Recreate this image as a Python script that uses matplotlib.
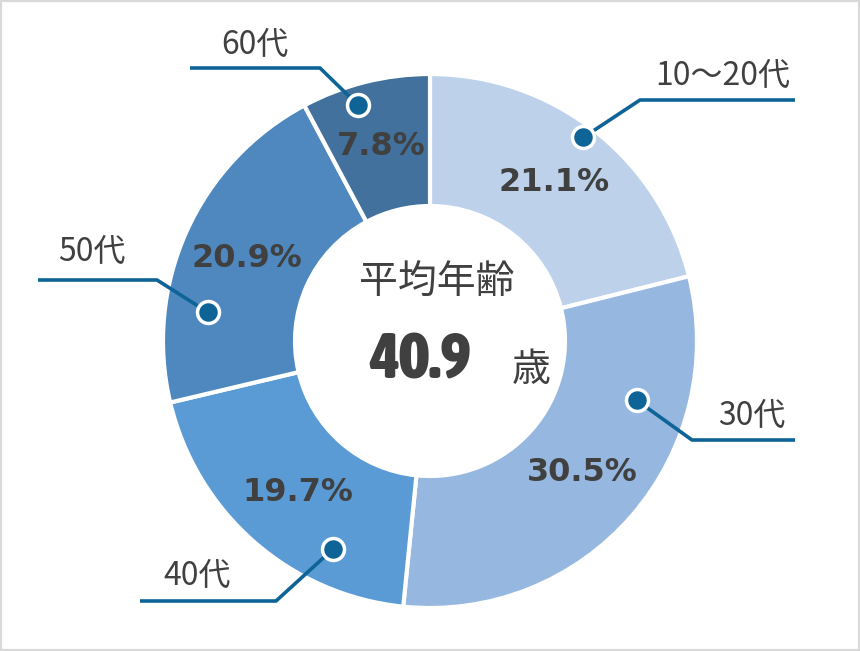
import numpy as np
import matplotlib
matplotlib.use("Agg")
import matplotlib.pyplot as plt
from matplotlib import font_manager
from matplotlib.font_manager import FontProperties
from matplotlib.patches import Rectangle

# data
groups = ["10〜20代", "30代", "40代", "50代", "60代"]
shares = [21.1, 30.5, 19.7, 20.9, 7.8]
colors = ["#BDD1EB", "#96B7DF", "#5B9BD5", "#4E88BF", "#41719C"]
avg_age = 40.9

# leader lines: dot (angle deg, radius frac), elbow, end (pixel coords, y down)
dots = [(53, 0.955), (-16, 0.805), (-115, 0.86), (172.6, 0.84), (107, 0.925)]
elbows = [(640, 100), (692, 440), (276, 601), (157, 280), (320, 68)]
ends = [(795, 100), (795, 440), (140, 601), (38, 280), (190, 68)]
label_xy = [(723, 76), (752, 416), (197, 576), (92, 252), (255, 45)]

W, H = 860, 651
cx, cy = 430, H - 341
r_out, r_in = 267, 135
line_col = "#0E6496"
txt_col = "#404040"
jp = ["Noto Sans CJK JP", "DejaVu Sans"]


def wt(w):
    return w if isinstance(w, int) else font_manager.weight_dict.get(w, 400)


# heavy narrow face for the big number, if one is around
cands = [f for f in font_manager.fontManager.ttflist
         if ("Narrow" in f.name or "Condensed" in f.name
             or "condensed" in str(f.stretch)) and wt(f.weight) >= 600
         and "Italic" not in f.fname and f.style == "normal"]
cands.sort(key=lambda f: -wt(f.weight))
if cands:
    big_font = FontProperties(fname=cands[0].fname, size=46)
else:
    big_font = FontProperties(family="DejaVu Sans", weight="bold", size=40)

fig = plt.figure(figsize=(8.6, 6.51), dpi=100)
ax = fig.add_axes([0, 0, 1, 1])

wedges, _, autotexts = ax.pie(
    shares, colors=colors, radius=r_out, center=(cx, cy),
    startangle=90, counterclock=False,
    autopct="%.1f%%", pctdistance=(r_out + r_in) / 2 / r_out,
    wedgeprops=dict(width=r_out - r_in, edgecolor="white", linewidth=3),
    textprops=dict(fontsize=23, fontweight="bold", color=txt_col),
    frame=True,
)
ax.set_xlim(0, W)
ax.set_ylim(0, H)
ax.set_aspect("equal")
ax.axis("off")

for i, g in enumerate(groups):
    ang, rf = dots[i]
    dx = cx + r_out * rf * np.cos(np.radians(ang))
    dy = cy + r_out * rf * np.sin(np.radians(ang))
    ex, ey = elbows[i]
    fx, fy = ends[i]
    ax.plot([dx, ex, fx], [dy, H - ey, H - fy], color=line_col, lw=2.6,
            solid_capstyle="butt", zorder=5)
    ax.scatter([dx], [dy], s=250, color=line_col, edgecolor="white",
               linewidth=2.5, zorder=6)
    lx, ly = label_xy[i]
    ax.text(lx, H - ly, g, ha="center", va="center", fontsize=23,
            color=txt_col, family=jp)

# centre text
ax.text(cx + 7, H - 283, "平均年齢", ha="center", va="center", fontsize=28,
        color=txt_col, family=jp)
ax.text(cx - 10, H - 361, f"{avg_age:.1f}", ha="center", va="center",
        fontproperties=big_font, color=txt_col)
ax.text(cx + 101, H - 370, "歳", ha="center", va="center", fontsize=28,
        color=txt_col, family=jp)

fig.patches.append(Rectangle((0, 0), 1, 1, transform=fig.transFigure,
                             fill=False, edgecolor="#D9D9D9", linewidth=3))

fig.savefig("out.png", dpi=100, facecolor="white")
